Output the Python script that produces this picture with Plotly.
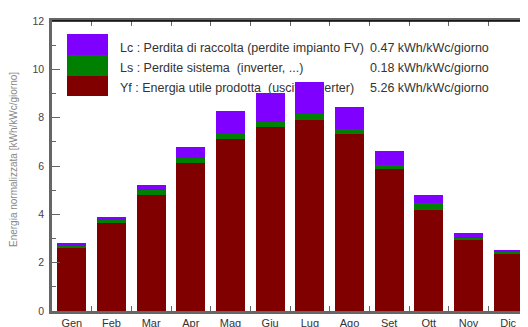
import plotly.graph_objects as go

months = ["Gen", "Feb", "Mar", "Apr", "Mag", "Giu", "Lug", "Ago", "Set", "Ott", "Nov", "Dic"]
yf = [2.61, 3.65, 4.78, 6.14, 7.12, 7.63, 7.91, 7.33, 5.86, 4.17, 2.93, 2.35]
ls = [0.08, 0.11, 0.22, 0.18, 0.21, 0.21, 0.24, 0.21, 0.18, 0.31, 0.11, 0.09]
lc = [0.13, 0.11, 0.21, 0.46, 0.93, 1.18, 1.31, 0.92, 0.60, 0.32, 0.17, 0.10]

legend_labels = [
    "Lc : Perdita di raccolta (perdite impianto FV)",
    "Ls : Perdite sistema  (inverter, ...)",
    "Yf : Energia utile prodotta  (uscita inverter)",
]
legend_values = ["0.47 kWh/kWc/giorno", "0.18 kWh/kWc/giorno", "5.26 kWh/kWc/giorno"]
colors = ["#8000ff", "#008000", "#800000"]
y_title = "Energia normalizzata [kWh/kWc/giorno]"

# the page body has an 8px margin: figure is sized to fit the 528x327 window
OFF = 8
W, H = 528 - OFF, 327 - OFF
L, R, T, B = 52 - OFF, 0, 21 - OFF, 16
pw, ph = W - L - R, H - T - B


def px(x):  # page x -> paper
    return (x - OFF - L) / pw


def py(y):  # page y -> paper
    return (H - B - (y - OFF)) / ph


fig = go.Figure()
for name, vals, col in [("Yf", yf, colors[2]), ("Ls", ls, colors[1]), ("Lc", lc, colors[0])]:
    fig.add_trace(go.Bar(x=months, y=vals, name=name, marker=dict(color=col, line=dict(width=0))))

font = "Liberation Sans, Arial, sans-serif"
shapes = []
annotations = []
swatches = [(34, 55), (55, 76), (76, 96)]
text_y = [46, 66, 86]
for i, (y0, y1) in enumerate(swatches):
    yt = text_y[i]
    shapes.append(dict(type="rect", xref="paper", yref="paper",
                       x0=px(67), x1=px(108), y0=py(y1), y1=py(y0),
                       fillcolor=colors[i], line=dict(width=0), layer="above"))
    shapes.append(dict(type="rect", xref="paper", yref="paper",
                       x0=px(117), x1=px(365), y0=py(yt + 8), y1=py(yt - 8),
                       fillcolor="rgba(0,0,0,0)", line=dict(width=0), layer="below",
                       label=dict(text=legend_labels[i], textposition="middle left", padding=0,
                                  font=dict(family=font, size=12.5, color="#333"))))
    shapes.append(dict(type="rect", xref="paper", yref="paper",
                       x0=px(367), x1=px(500), y0=py(yt + 8), y1=py(yt - 8),
                       fillcolor="rgba(0,0,0,0)", line=dict(width=0), layer="below",
                       label=dict(text=legend_values[i], textposition="middle left", padding=0,
                                  font=dict(family=font, size=12.5, color="#333"))))

# top frame line (black)
shapes.append(dict(type="line", xref="paper", yref="paper", x0=0, x1=1, y0=1, y1=1,
                   line=dict(color="black", width=1.5), layer="above"))

annotations.append(dict(text=y_title, xref="paper", yref="paper", x=px(13), y=py(160),
                        textangle=-90, showarrow=False, xanchor="center", yanchor="middle",
                        font=dict(family=font, size=10, color="#888")))

fig.update_layout(
    width=W, height=H,
    margin=dict(l=L, r=R, t=T, b=B, pad=0, autoexpand=False),
    barmode="stack", bargap=0.27,
    showlegend=False,
    plot_bgcolor="white", paper_bgcolor="white",
    font=dict(family=font, size=10, color="#333"),
    shapes=shapes, annotations=annotations,
    xaxis=dict(type="category", range=[-0.5, 11.5], showline=True, linecolor="#666", linewidth=2.5,
               mirror="ticks", ticks="inside", ticklen=5, tickcolor="#666", tickwidth=1,
               tickson="boundaries", showgrid=False, automargin=False,
               tickfont=dict(family=font, size=11, color="#333")),
    yaxis=dict(range=[0, 12], dtick=2, showline=True, linecolor="#666", linewidth=2.5,
               mirror="ticks", ticks="inside", ticklen=8, tickcolor="#666", tickwidth=1,
               showgrid=False, zeroline=False, automargin=False, ticklabelstandoff=3,
               tickfont=dict(family=font, size=10.5, color="#444"),
               minor=dict(dtick=1, ticks="inside", ticklen=4, tickcolor="#666")),
)

fig.write_html("out.html")
